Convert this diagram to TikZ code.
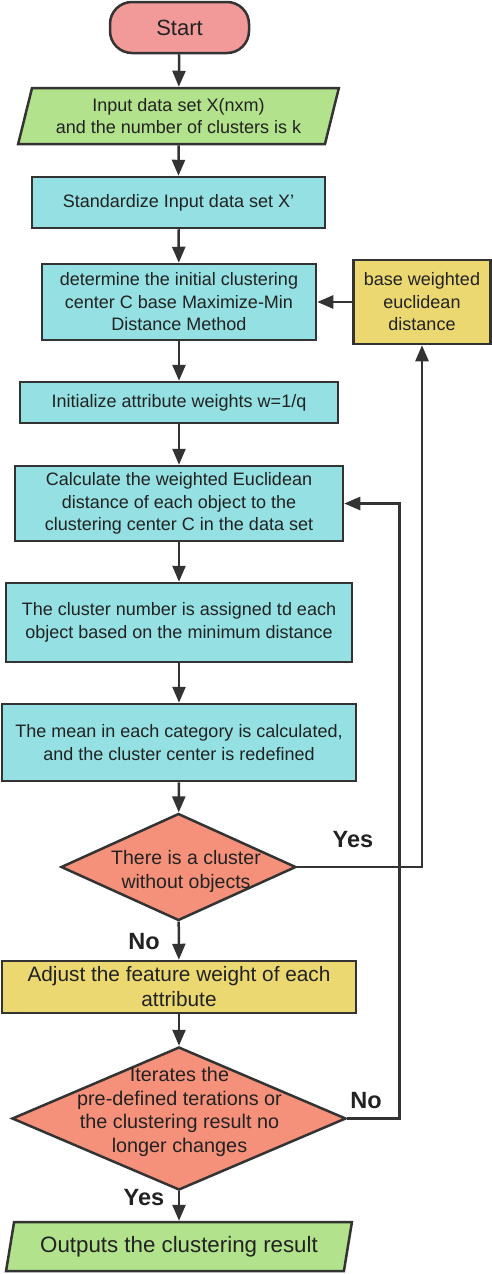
\documentclass[tikz,border=0pt]{standalone}
\usepackage{fontspec}
\setmainfont{Liberation Sans}
\usetikzlibrary{shapes.geometric,arrows.meta}

\definecolor{linegray}{HTML}{333333}
\definecolor{textgray}{HTML}{222222}
\definecolor{startpink}{HTML}{F29A9A}
\definecolor{iogreen}{HTML}{B2E28C}
\definecolor{proccyan}{HTML}{94E0E2}
\definecolor{adjyellow}{HTML}{EBD871}
\definecolor{decsalmon}{HTML}{F5917A}

\tikzset{
	boxbase/.style={draw=linegray,line width=2.5pt,align=center,text=textgray,inner sep=0pt,
		font=\fontsize{18}{22.5}\selectfont},
	termbox/.style={boxbase,fill=startpink,rounded corners=22pt,font=\fontsize{22}{26}\selectfont},
	iobox/.style={boxbase,fill=iogreen,trapezium,trapezium left angle=72,trapezium right angle=108,
		trapezium stretches=true},
	procbox/.style={boxbase,fill=proccyan},
	adjbox/.style={boxbase,fill=adjyellow},
	decbox/.style={boxbase,fill=decsalmon,diamond},
	dectext/.style={align=center,text=textgray,inner sep=0pt},
	arr/.style={draw=linegray,line width=2.5pt,-{Triangle[length=16pt,width=13pt]}},
	lab/.style={font=\fontsize{23.5}{28}\selectfont\bfseries,text=textgray},
}

\begin{document}
\begin{tikzpicture}[x=1pt,y=-1pt]
	\useasboundingbox (0,0) rectangle (491,1274);

	% main column
	\node [termbox,minimum width=139pt,minimum height=51pt] (start) at (179.5,27.5) {Start};
	\node [iobox,minimum width=321pt,minimum height=56pt] (input) at (178.5,116) {Input data set X(nxm)\\and the number of clusters is k};
	\node [procbox,minimum width=293pt,minimum height=51pt] (std) at (178.5,202.5) {Standardize Input data set X'};
	\node [procbox,minimum width=274pt,minimum height=76pt] (init center) at (179,302) {determine the initial clustering\\center C base Maximize-Min\\Distance Method};
	\node [adjbox,minimum width=137pt,minimum height=84pt] (wdist) at (422,302) {base weighted\\euclidean\\distance};
	\node [procbox,minimum width=318pt,minimum height=41pt] (init w) at (179,402.5) {Initialize attribute weights w=1/q};
	\node [procbox,minimum width=328pt,minimum height=75pt] (calc) at (179,503.5) {Calculate the weighted Euclidean\\distance of each object to the\\clustering center C in the data set};
	\node [procbox,minimum width=346pt,minimum height=79pt] (assign) at (179,622.5) {The cluster number is assigned td each\\object based on the minimum distance};
	\node [procbox,minimum width=354pt,minimum height=77pt] (mean) at (179,742.5) {The mean in each category is calculated,\\and the cluster center is redefined};
	\node [decbox,aspect=2.2,minimum width=235pt,minimum height=107pt,
		label={[dectext,font=\fontsize{19.5}{24}\selectfont,xshift=7.5pt,yshift=-4pt]center:There is a cluster\\without objects}] (empty) at (178.5,867) {};
	\node [adjbox,minimum width=354pt,minimum height=52pt,font=\fontsize{20.8}{25}\selectfont] (adjust) at (179,987) {Adjust the feature weight of each\\attribute};
	\node [decbox,aspect=2.33,minimum width=334pt,minimum height=143pt,
		label={[dectext,font=\fontsize{19.8}{23.5}\selectfont,xshift=0.5pt,yshift=6.5pt]center:Iterates the\\pre-defined terations or\\the clustering result no\\longer changes}] (stop) at (179,1118.5) {};
	\node [iobox,minimum width=346pt,minimum height=49pt,font=\fontsize{22.3}{26}\selectfont] (output) at (179,1246.5) {Outputs the clustering result};

	% arrows down
	\draw [arr] (start) -- (input);
	\draw [arr] (input) -- (std);
	\draw [arr] (std) -- (init center);
	\draw [arr] (init center) -- (init w);
	\draw [arr] (init w) -- (calc);
	\draw [arr] (calc) -- (assign);
	\draw [arr] (assign) -- (mean);
	\draw [arr] (mean) -- (empty);
	\draw [arr] (empty) -- (adjust);
	\draw [arr] (adjust) -- (stop);
	\draw [arr] (stop) -- (output);

	% loops
	\draw [arr] (wdist) -- (init center);
	\draw [arr] (empty.east) -| (wdist.south);
	\draw [arr] (stop.east) -- ++(52,0) |- (calc.east);

	% labels
	\node [lab] (yes1) at (353,840) {Yes};
	\node [lab] (no1) at (144,942) {No};
	\node [lab] (no2) at (366,1101) {No};
	\node [lab] (yes2) at (144,1198) {Yes};
\end{tikzpicture}
\end{document}
